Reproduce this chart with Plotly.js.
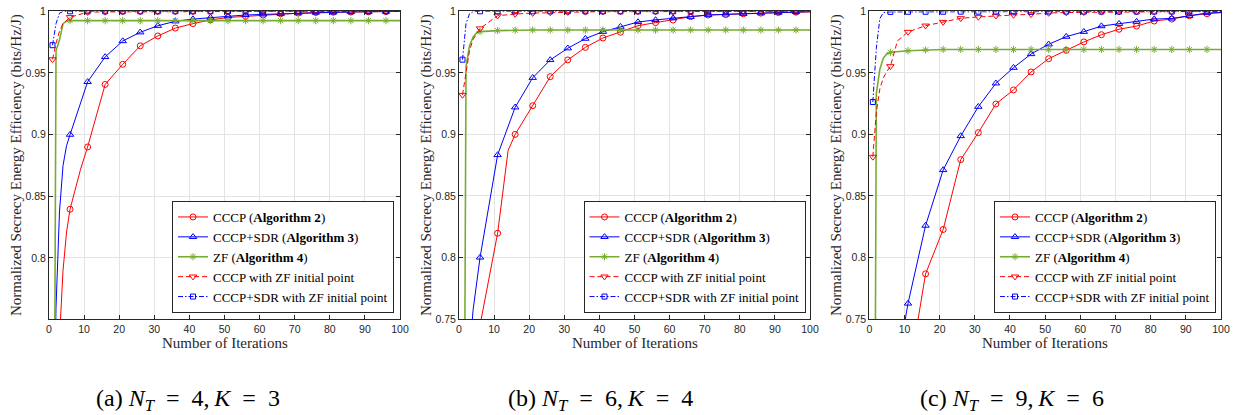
<!DOCTYPE html>
<html><head><meta charset="utf-8">
<script src="https://cdn.plot.ly/plotly-3.0.1.min.js"></script>
<style>html,body{margin:0;padding:0;background:#fff}#chart{width:1234px;height:415px}</style>
</head><body><div id="chart"></div>
<script>
// ---------- data ----------
const seriesNames = [
  'CCCP (<b>Algorithm 2</b>)',
  'CCCP+SDR (<b>Algorithm 3</b>)',
  'ZF (<b>Algorithm 4</b>)',
  'CCCP with ZF initial point',
  'CCCP+SDR with ZF initial point'
];
const xTickVals = [0,10,20,30,40,50,60,70,80,90,100];
const captions = [
  '(a) <i>N</i><sub><i>T</i></sub>\u2002=\u20024,\u2009<i>K</i>\u2002=\u20023',
  '(b) <i>N</i><sub><i>T</i></sub>\u2002=\u20026,\u2009<i>K</i>\u2002=\u20024',
  '(c) <i>N</i><sub><i>T</i></sub>\u2002=\u20029,\u2009<i>K</i>\u2002=\u20026'
];
const xTitle = 'Number of Iterations';
const yTitle = 'Normalized Secrecy Energy Efficiency (bits/Hz/J)';

// panel (a): N_T = 4, K = 3
const a_cccp_x = [1,2,3,4,5,6,9,11,16,21,26,31,36,41,46,51,56,61,66,71,76,81,86,91,96,100];
const a_cccp_y = [0.60,0.68,0.735,0.79,0.821,0.8395,0.872,0.890,0.9407,0.957,0.972,0.980,0.9864,0.990,0.993,0.995,0.996,0.997,0.998,0.9985,0.999,0.9992,0.9994,0.9996,0.9998,0.9999];
const a_sdr_x = [1,2,3,4,5,6,11,16,21,26,31,36,41,46,51,56,61,66,71,76,81,86,91,96,100];
const a_sdr_y = [0.60,0.76,0.838,0.875,0.891,0.900,0.9428,0.963,0.9759,0.983,0.9883,0.9919,0.9937,0.995,0.996,0.997,0.9975,0.998,0.9985,0.999,0.9992,0.9995,0.9997,0.9998,0.9999];
const a_zf_x = [1,2,3,4,5,6,11,16,21,26,31,36,41,46,51,56,61,66,71,76,81,86,91,96,100];
const a_zf_y = [0.30,0.968,0.977,0.990,0.992,0.9924,0.9924,0.9924,0.9924,0.9924,0.9924,0.9924,0.9924,0.9924,0.9924,0.9924,0.9924,0.9924,0.9924,0.9924,0.9924,0.9924,0.9924,0.9924,0.9924];
const a_cccpzf_x = [1,2,3,4,6,11,16,21,26,31,36,41,46,51,56,61,66,71,76,81,86,91,96,100];
const a_cccpzf_y = [0.961,0.974,0.984,0.990,0.9952,0.9993,0.9995,0.9996,0.9997,0.9997,0.9998,0.9998,0.9998,0.9999,0.9999,0.9999,0.9999,0.9999,0.9999,0.9999,0.9999,0.9999,0.9999,0.9999];
const a_sdrzf_x = [1,2,3,4,6,11,16,21,26,31,36,41,46,51,56,61,66,71,76,81,86,91,96,100];
const a_sdrzf_y = [0.9725,0.990,0.9985,0.9998,1,1,1,1,1,1,1,1,1,1,1,1,1,1,1,1,1,1,1,1];

// panel (b): N_T = 6, K = 4
const b_cccp_x = [1,6,11,13,14,16,21,26,31,36,41,46,51,56,61,66,71,76,81,86,91,96,100];
const b_cccp_y = [0.55,0.745,0.8197,0.868,0.887,0.900,0.9233,0.9469,0.9605,0.9707,0.9783,0.983,0.9883,0.9908,0.9929,0.9956,0.997,0.9973,0.998,0.9985,0.999,0.9993,0.9995];
const b_sdr_x = [1,3,4,6,11,16,21,26,31,36,41,46,51,56,61,66,71,76,81,86,91,96,100];
const b_sdr_y = [0.50,0.72,0.757,0.800,0.8833,0.922,0.946,0.9605,0.970,0.9778,0.9834,0.9875,0.9913,0.993,0.9944,0.9956,0.997,0.9975,0.998,0.9985,0.999,0.9995,0.9997];
const b_zf_x = [1,2,3,4,5,6,11,16,21,26,31,36,41,46,51,56,61,66,71,76,81,86,91,96,100];
const b_zf_y = [0.30,0.955,0.972,0.979,0.9825,0.9835,0.9843,0.9847,0.9848,0.9848,0.9848,0.9848,0.9848,0.9848,0.9848,0.9848,0.9848,0.9848,0.9848,0.9848,0.9848,0.9848,0.9848,0.9848,0.9848];
const b_cccpzf_x = [1,2,3,4,5,6,11,16,21,26,31,36,41,46,51,56,61,66,71,76,81,86,91,96,100];
const b_cccpzf_y = [0.932,0.952,0.968,0.977,0.982,0.986,0.9964,0.9978,0.9985,0.999,0.9993,0.9995,0.9997,0.9997,0.9998,0.9998,0.9998,0.9999,0.9999,0.9999,0.9999,0.9999,0.9999,0.9999,0.9999];
const b_sdrzf_x = [1,2,3,4,6,11,16,21,26,31,36,41,46,51,56,61,66,71,76,81,86,91,96,100];
const b_sdrzf_y = [0.9607,0.990,0.998,0.9997,1,1,1,1,1,1,1,1,1,1,1,1,1,1,1,1,1,1,1,1];

// panel (c): N_T = 9, K = 6
const c_cccp_x = [1,6,11,16,21,26,31,36,41,46,51,56,61,66,71,76,81,86,91,96,100];
const c_cccp_y = [0.30,0.50,0.70,0.7867,0.8227,0.8795,0.9014,0.9247,0.9361,0.9507,0.9615,0.9683,0.9751,0.981,0.9854,0.988,0.9921,0.9937,0.9964,0.998,0.999];
const c_sdr_x = [1,6,11,16,21,26,31,36,41,46,51,56,61,66,71,76,81,86,91,96,100];
const c_sdr_y = [0.50,0.68,0.7626,0.8259,0.8711,0.8987,0.9225,0.9415,0.9542,0.9653,0.9732,0.9794,0.9834,0.988,0.9899,0.9916,0.9937,0.9942,0.9964,0.9986,0.999];
const c_zf_x = [1,2,3,4,5,6,11,16,21,26,31,36,41,46,51,56,61,66,71,76,81,86,91,96,100];
const c_zf_y = [0.20,0.933,0.953,0.962,0.9655,0.9667,0.968,0.9686,0.969,0.969,0.969,0.969,0.969,0.969,0.969,0.969,0.969,0.969,0.969,0.969,0.969,0.969,0.969,0.969,0.969];
const c_cccpzf_x = [1,2,3,4,5,6,8,11,16,21,26,31,36,41,46,51,56,61,66,71,76,81,86,91,96,100];
const c_cccpzf_y = [0.8817,0.918,0.937,0.946,0.951,0.9553,0.976,0.9832,0.9883,0.9913,0.9943,0.9954,0.9964,0.997,0.9975,0.9986,0.999,0.9992,0.9995,0.9996,0.9996,0.9997,0.9997,0.9998,0.9998,0.9999];
const c_sdrzf_x = [1,2,3,4,6,11,16,21,26,31,36,41,46,51,56,61,66,71,76,81,86,91,96,100];
const c_sdrzf_y = [0.9263,0.970,0.994,0.999,0.9995,0.9996,0.9996,0.9996,0.9997,0.9997,0.9997,0.9997,0.9997,0.9998,0.9998,0.9998,0.9998,0.9998,0.9998,0.9998,0.9998,0.9998,0.9998,0.9998];

const panels = [
  {xs:[a_cccp_x,a_sdr_x,a_zf_x,a_cccpzf_x,a_sdrzf_x], ys:[a_cccp_y,a_sdr_y,a_zf_y,a_cccpzf_y,a_sdrzf_y], yMin:0.7505},
  {xs:[b_cccp_x,b_sdr_x,b_zf_x,b_cccpzf_x,b_sdrzf_x], ys:[b_cccp_y,b_sdr_y,b_zf_y,b_cccpzf_y,b_sdrzf_y], yMin:0.75},
  {xs:[c_cccp_x,c_sdr_x,c_zf_x,c_cccpzf_x,c_sdrzf_x], ys:[c_cccp_y,c_sdr_y,c_zf_y,c_cccpzf_y,c_sdrzf_y], yMin:0.75}
];

// ---------- styles ----------
const SERIF = "'Liberation Serif', 'Times New Roman', serif";
const SANS = "'Liberation Sans', Arial, sans-serif";
const styles = [
  {color:'#FF0000', dash:'solid', width:1, symbol:'circle-open', size:6},
  {color:'#0000FF', dash:'solid', width:1, symbol:'triangle-up-open', size:6.5},
  {color:'#77AC30', dash:'solid', width:1.6, symbol:'asterisk-open', size:6},
  {color:'#FF0000', dash:'5px,3px', width:1, symbol:'triangle-down-open', size:6.5},
  {color:'#0000FF', dash:'5px,2px,1.5px,2px', width:1, symbol:'square-open', size:5}
];
const AX = '#262626';
const xDomains = [[49/1234, 400/1234],[459/1234, 810/1234],[869.3/1234, 1221/1234]];
const yDomain = [1-319/415, 1-11.3/415];
const legendRight = [394/1234, 805.5/1234, 1216/1234];
const yTitleX = [16/1234, 426/1234, 836/1234];
const captionX = [188/1234, 600/1234, 1012/1234];

const traces = [];
panels.forEach((p, pi) => {
  const suf = pi === 0 ? '' : String(pi+1);
  p.xs.forEach((xs, si) => {
    const st = styles[si];
    const mcol = xs.map(x => ((x-1) % 5 === 0 && x <= 96) ? st.color : 'rgba(0,0,0,0)');
    traces.push({
      type:'scatter', mode:'lines+markers', x: xs, y: p.ys[si],
      name: seriesNames[si],
      xaxis:'x'+suf, yaxis:'y'+suf,
      legend: 'legend'+suf,
      line:{color:st.color, width:st.width, dash:st.dash},
      marker:{symbol:st.symbol, size:st.size, color:mcol, line:{width:1}},
      cliponaxis:true
    });
  });
});

const layout = {
  width:1234, height:415, autosize:false,
  margin:{l:0,r:0,t:0,b:0},
  paper_bgcolor:'#ffffff', plot_bgcolor:'#ffffff',
  showlegend:true,
  font:{family:SERIF, color:AX},
  annotations:[]
};
panels.forEach((p, pi) => {
  const suf = pi === 0 ? '' : String(pi+1);
  layout['xaxis'+suf] = {
    domain:xDomains[pi], anchor:'y'+suf, range:[0,100],
    tickvals:xTickVals, ticks:'inside', ticklen:4, tickcolor:AX,
    showline:true, linecolor:AX, linewidth:1, mirror:'ticks',
    showgrid:true, gridcolor:'#e3e3e3', gridwidth:1, zeroline:false,
    tickfont:{family:SANS, size:10.5, color:AX}
  };
  layout['yaxis'+suf] = {
    domain:yDomain, anchor:'x'+suf, range:[p.yMin,1],
    tick0:0.75, dtick:0.05, ticks:'inside', ticklen:4, tickcolor:AX,
    showline:true, linecolor:AX, linewidth:1, mirror:'ticks',
    showgrid:true, gridcolor:'#e3e3e3', gridwidth:1, zeroline:false,
    tickfont:{family:SANS, size:10.5, color:AX}
  };
  layout['legend'+suf] = {
    x:legendRight[pi], y:1-313/415, xref:'paper', yref:'paper',
    xanchor:'right', yanchor:'bottom',
    bgcolor:'#ffffff', bordercolor:AX, borderwidth:1,
    font:{family:SERIF, size:13, color:'#000'},
    itemwidth:30, tracegroupgap:0
  };
  layout.annotations.push({
    xref:'paper', yref:'paper', x:yTitleX[pi], y:1-165/415, xanchor:'center', yanchor:'middle',
    text:yTitle, textangle:-90, showarrow:false,
    font:{family:SERIF, size:15, color:AX}
  });
  layout.annotations.push({
    xref:'paper', yref:'paper', x:(xDomains[pi][0]+xDomains[pi][1])/2, y:1-343/415,
    xanchor:'center', yanchor:'middle', text:xTitle, showarrow:false,
    font:{family:SERIF, size:15, color:AX}
  });
  layout.annotations.push({
    xref:'paper', yref:'paper', x:captionX[pi], y:1-400/415,
    xanchor:'center', yanchor:'middle', text:captions[pi], showarrow:false,
    font:{family:SERIF, size:24, color:'#000'}
  });
});

Plotly.newPlot('chart', traces, layout, {staticPlot:true, displayModeBar:false});
</script>
</body></html>
